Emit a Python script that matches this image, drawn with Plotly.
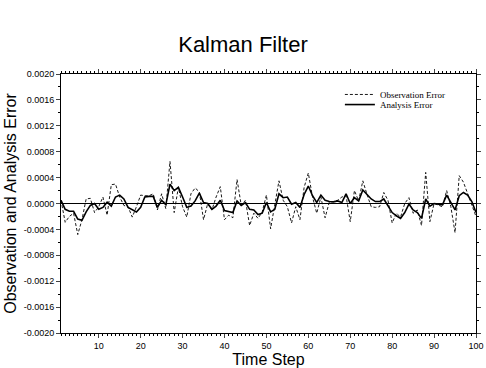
import plotly.graph_objects as go

time_step = list(range(1, 101))

observation_error = [
    0.5, -2.9, -2.0, -1.5, -4.8, -2.5, 0.7, 0.8, -1.4, -0.5,
    1.0, -1.8, 2.9, 3.0, 1.0, -0.3, -0.5, -2.1, -0.5, 1.3,
    1.2, 1.2, 1.5, -1.0, 1.5, -0.8, 6.5, -1.4, 2.5, -0.5,
    -2.1, 1.5, 2.4, 1.8, -2.5, 0.0, -1.0, 1.0, 2.6, -2.5,
    -1.8, -2.2, 3.7, -0.3, 0.5, -3.4, -1.5, -2.3, -1.3, 1.3,
    -3.9, -0.5, 3.5, 0.5, -0.5, -3.0, -0.5, -2.5, 2.5, 4.7,
    1.0, -1.5, 1.0, -2.2, 0.2, 0.3, 0.5, 1.0, 1.2, -2.8,
    2.0, 0.4, 3.5, 1.4, -0.5, -0.6, -0.5, 1.7, 0.5, -3.0,
    -1.5, -2.1, 0.0, 0.9, -1.5, -1.0, -3.4, 4.8, -2.8, 0.0,
    -0.3, -0.5, 2.0, -0.5, -4.5, 4.3, 3.3, 1.5, -0.3, -2.0,
]

analysis_error = [
    0.5, -0.9, -1.2, -1.2, -2.4, -2.6, -1.3, -0.3, 0.0, -0.9,
    -0.6, 0.2, -0.4, 1.0, 1.3, 0.7, -0.6, -0.9, -1.3, -0.6,
    1.0, 1.1, 1.1, -0.6, 0.5, -0.2, 3.0, 2.0, 2.5, 1.0,
    -0.6, -0.4, 0.4, 1.6, 0.15, 0.0, -0.9, -0.4, 0.5, -1.1,
    -1.2, -1.4, 0.4, -0.3, 0.15, -0.9, -1.0, -1.7, -1.5, 0.15,
    -1.3, -0.9, 1.5, 0.9, 1.0, -0.1, 0.15, -0.6, 1.4, 2.7,
    1.2, 0.15, 1.3, 0.5, 0.3, 0.25, 0.4, 0.15, 1.5, 0.0,
    0.9, 0.4, 2.1, 1.4, 0.7, 0.3, 0.3, 0.7, -0.4, -1.4,
    -1.9, -2.3, -1.4, -0.1, -1.0, -1.4, -2.3, 0.7, -0.4, 0.0,
    -0.1, -0.2, 1.3, 0.15, -1.0, 1.2, 1.7, 1.3, 0.3, -1.4,
]

scale = 1e-4
obs = [v * scale for v in observation_error]
ana = [v * scale for v in analysis_error]

y_ticks = [-0.0020, -0.0016, -0.0012, -0.0008, -0.0004, 0.0, 0.0004, 0.0008, 0.0012, 0.0016, 0.0020]
y_tick_text = ["-0.0020", "-0.0016", "-0.0012", "-0.0008", "-0.0004", "0.0000",
               "0.0004", "0.0008", "0.0012", "0.0016", "0.0020"]
x_ticks = [10, 20, 30, 40, 50, 60, 70, 80, 90, 100]

fig = go.Figure()
fig.add_trace(go.Scatter(
    x=time_step, y=obs, mode="lines", name="Observation Error",
    line=dict(color="black", width=0.9, dash="3px,2px"), legend="legend",
))
fig.add_trace(go.Scatter(
    x=time_step, y=ana, mode="lines", name="Analysis Error",
    line=dict(color="black", width=1.6), legend="legend2",
))

fig.add_shape(type="line", xref="x", yref="y", x0=1, x1=100, y0=0, y1=0,
              line=dict(color="black", width=1), layer="below")

legend_common = dict(xanchor="left", yanchor="top", bgcolor="rgba(0,0,0,0)", borderwidth=0,
                     font=dict(family="Liberation Serif, Times New Roman, serif", size=9),
                     itemwidth=30)

fig.update_layout(
    width=486, height=368,
    margin=dict(l=61, r=10, t=74, b=35, autoexpand=False),
    paper_bgcolor="white", plot_bgcolor="white",
    font=dict(family="Liberation Sans, Arial, sans-serif", color="black", size=9),
    title=dict(text="Kalman Filter", x=0.5, xanchor="center", y=0.88, yanchor="middle",
               font=dict(size=22, family="Liberation Sans, Arial, sans-serif")),
    showlegend=True,
    legend=dict(x=0.672, y=0.977, **legend_common),
    legend2=dict(x=0.672, y=0.938, **legend_common),
    xaxis=dict(
        range=[1, 100], tickvals=x_ticks, ticks="outside", ticklen=4, tickwidth=1,
        showline=True, linecolor="black", linewidth=1, mirror="allticks",
        showgrid=False, zeroline=False, automargin=False,
        minor=dict(dtick=1, tick0=0, ticks="outside", ticklen=2, tickwidth=1, tickcolor="black", showgrid=False),
        title=dict(text="Time Step", font=dict(size=16), standoff=4),
        tickfont=dict(size=9),
    ),
    yaxis=dict(
        range=[-0.0020, 0.0020], tickvals=y_ticks, ticktext=y_tick_text,
        ticks="outside", ticklen=4, tickwidth=1,
        showline=True, linecolor="black", linewidth=1, mirror="allticks",
        showgrid=False, zeroline=False, automargin=False,
        minor=dict(dtick=0.0002, tick0=0, ticks="outside", ticklen=2, tickwidth=1, tickcolor="black", showgrid=False),
        title=dict(text="Observation and Analysis Error", font=dict(size=16), standoff=3),
        tickfont=dict(size=9),
    ),
)

fig.write_html("out.html")
